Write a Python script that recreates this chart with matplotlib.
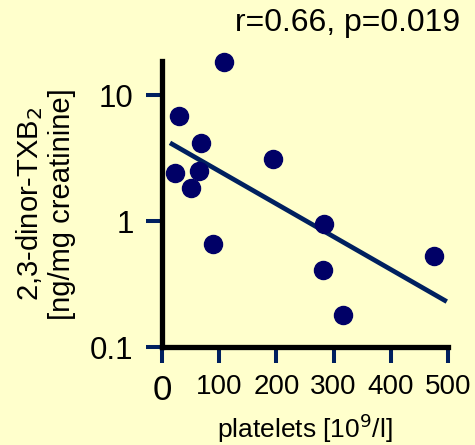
import matplotlib
matplotlib.use("Agg")
import matplotlib.pyplot as plt

# platelets [10^9/l] vs 2,3-dinor-TXB2 [ng/mg creatinine]
platelets = [22, 30, 51, 64, 69, 89, 108, 194, 283, 281, 317, 475]
txb2 = [2.43, 6.9, 1.85, 2.5, 4.2, 0.66, 18.5, 3.1, 0.95, 0.41, 0.18, 0.53]

# regression line end points (log-linear fit as printed)
fit_x = [14, 498]
fit_y = [4.2, 0.23]

x_ticks = [0, 100, 200, 300, 400, 500]
y_ticks = [0.1, 1, 10]
y_ticklabels = ["0.1", "1", "10"]

bg = "#FFFFCC"
navy = "#00205F"
dot = "#000066"

plt.rcParams["font.family"] = ["Liberation Sans", "DejaVu Sans"]

fig = plt.figure(figsize=(4.75, 4.45), dpi=100)
fig.patch.set_facecolor(bg)
ax = fig.add_axes([0.341, 0.220, 0.602, 0.643])
ax.set_facecolor(bg)

ax.plot(fit_x, fit_y, color=navy, lw=3.4, solid_capstyle="butt", zorder=2)
ax.plot(platelets, txb2, "o", color=dot, ms=13, mec=dot, clip_on=False, zorder=3)

ax.set_yscale("log")
ax.set_xlim(0, 500)
ax.set_ylim(0.1, 18.8)
ax.set_yticks(y_ticks)
ax.set_yticklabels(y_ticklabels)
ax.minorticks_off()
ax.set_xticks(x_ticks)
ax.set_xticklabels([str(v) for v in x_ticks])

for side in ["top", "right"]:
    ax.spines[side].set_visible(False)
for side in ["left", "bottom"]:
    ax.spines[side].set_color("black")
    ax.spines[side].set_linewidth(3.8)

ax.tick_params(axis="both", direction="out", length=11.5, width=2.9,
               color=navy, labelcolor="black")
ax.tick_params(axis="x", labelsize=20, pad=8)
ax.tick_params(axis="y", labelsize=22.5, pad=9)
ax.get_xticklabels()[0].set_fontsize(25)

ax.set_xlabel("platelets [10$^{9}$/l]", fontsize=19, labelpad=3)
ax.set_ylabel("2,3-dinor-TXB$_{2}$\n[ng/mg creatinine]", fontsize=21,
              linespacing=1.15, labelpad=10)

fig.text(0.968, 0.948, "r=0.66, p=0.019", fontsize=23, ha="right", va="center")

fig.savefig("out.png", dpi=100, facecolor=bg)
